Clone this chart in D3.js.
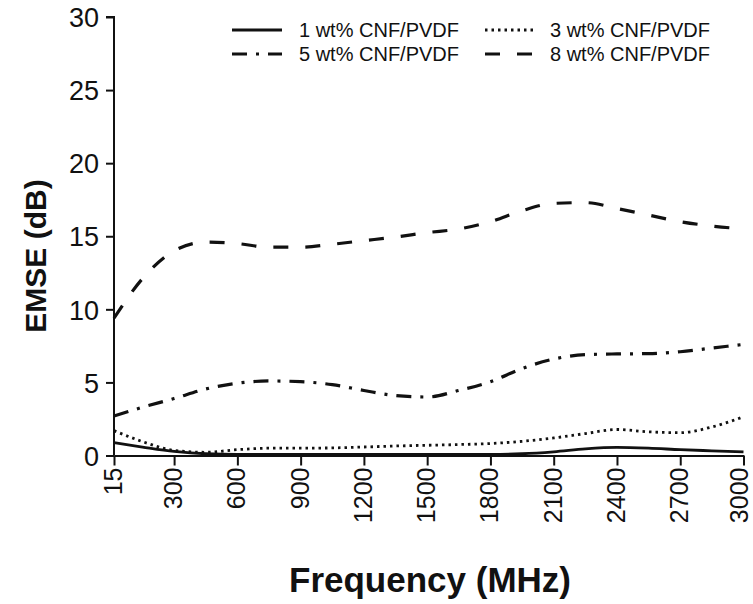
<!DOCTYPE html>
<html>
<head>
<meta charset="utf-8">
<script src="https://cdn.jsdelivr.net/npm/d3@7"></script>
<style>
  body { margin: 0; background: #fff; }
  text { font-family: "Liberation Sans", Arial, sans-serif; fill: #111; }
</style>
</head>
<body>
<div id="chart"></div>
<script>
// frequency points (MHz)
const freqs = [15, 150, 300, 450, 600, 750, 900, 1050, 1200, 1350, 1500, 1650, 1800, 1950, 2100, 2250, 2400, 2550, 2700, 2850, 3000]

// EMSE (dB) for each loading
const cnf1 = [0.88, 0.58, 0.28, 0.12, 0.08, 0.08, 0.08, 0.08, 0.08, 0.08, 0.08, 0.08, 0.08, 0.12, 0.25, 0.45, 0.55, 0.5, 0.4, 0.32, 0.25]
const cnf3 = [1.7, 0.95, 0.35, 0.22, 0.4, 0.5, 0.5, 0.52, 0.58, 0.65, 0.7, 0.75, 0.82, 0.97, 1.2, 1.5, 1.78, 1.62, 1.56, 1.95, 2.65]
const cnf5 = [2.7, 3.3, 3.9, 4.55, 4.95, 5.1, 5.05, 4.85, 4.45, 4.1, 4.0, 4.45, 5.05, 5.95, 6.6, 6.9, 6.95, 6.97, 7.1, 7.35, 7.6]
const cnf8 = [9.4, 12.1, 14.0, 14.6, 14.5, 14.25, 14.25, 14.45, 14.7, 14.95, 15.25, 15.5, 16.0, 16.75, 17.25, 17.3, 16.9, 16.45, 16.0, 15.7, 15.5]

const seriesNames = ['1 wt% CNF/PVDF', '3 wt% CNF/PVDF', '5 wt% CNF/PVDF', '8 wt% CNF/PVDF']
const xTicks = [15, 300, 600, 900, 1200, 1500, 1800, 2100, 2400, 2700, 3000]
const yTicks = [0, 5, 10, 15, 20, 25, 30]

function draw() {
  const width = 753
  const height = 604

  const svg = d3.select('#chart')
    .append('svg')
    .attr('width', width)
    .attr('height', height)

  //scales
  const x = d3.scaleLinear().domain([15, 3000]).range([114, 743.5])
  const y = d3.scaleLinear().domain([0, 30]).range([455.5, 17])

  //axes
  const yAxis = svg.append('g')
    .attr('transform', `translate(${x(15)},0)`)
    .call(d3.axisLeft(y).tickValues(yTicks).tickSize(8).tickPadding(7))
  const xAxis = svg.append('g')
    .attr('transform', `translate(0,${y(0)})`)
    .call(d3.axisBottom(x).tickValues(xTicks).tickFormat(d3.format('d')).tickSize(10).tickSizeOuter(0))

  yAxis.selectAll('path, line').attr('stroke', '#111').attr('stroke-width', 2)
  xAxis.selectAll('path, line').attr('stroke', '#111').attr('stroke-width', 2)
  yAxis.select('.domain').attr('d', `M-8,${y(30)}H0V${y(0)}`)

  yAxis.selectAll('text')
    .attr('font-size', 27)
    .attr('font-family', '"Liberation Sans", Arial, sans-serif')
    .attr('fill', '#111')
    .attr('dy', '0.36em')
  //last label sits at the right edge, pull it in a little
  xAxis.selectAll('text')
    .attr('font-size', 25)
    .attr('font-family', '"Liberation Sans", Arial, sans-serif')
    .attr('fill', '#111')
    .attr('text-anchor', 'end')
    .attr('transform', 'rotate(-90)')
    .attr('x', -12)
    .attr('y', d => d === 3000 ? -5 : -1)
    .attr('dy', '0.34em')

  //axis titles
  svg.append('text')
    .attr('x', 430)
    .attr('y', 592)
    .attr('text-anchor', 'middle')
    .attr('font-weight', 'bold')
    .attr('font-size', 35)
    .text('Frequency (MHz)')

  svg.append('text')
    .attr('transform', 'translate(46,256) rotate(-90)')
    .attr('text-anchor', 'middle')
    .attr('font-weight', 'bold')
    .attr('font-size', 30)
    .text('EMSE (dB)')

  //line styles
  const styles = [
    { dash: null, w: 2.8 },
    { dash: '2.5,4', w: 2.8 },
    { dash: '15,9,3,9', w: 3.2 },
    { dash: '15,17', w: 3.2 }
  ]
  const allSeries = [cnf1, cnf3, cnf5, cnf8]

  const line = d3.line()
    .x((d, i) => x(freqs[i]))
    .y(d => y(d))
    .curve(d3.curveMonotoneX)

  svg.append('g').selectAll('path')
    .data(allSeries)
    .join('path')
    .attr('d', line)
    .attr('fill', 'none')
    .attr('stroke', '#111')
    .attr('stroke-width', (d, i) => styles[i].w)
    .attr('stroke-dasharray', (d, i) => styles[i].dash)

  //legend
  const legendPos = [
    { lx: 232, tx: 299, ly: 30 },
    { lx: 485, tx: 550, ly: 30 },
    { lx: 232, tx: 299, ly: 54 },
    { lx: 485, tx: 550, ly: 54 }
  ]
  const legend = svg.append('g')
  legend.selectAll('line')
    .data(seriesNames)
    .join('line')
    .attr('x1', (d, i) => legendPos[i].lx)
    .attr('x2', (d, i) => legendPos[i].lx + 50)
    .attr('y1', (d, i) => legendPos[i].ly)
    .attr('y2', (d, i) => legendPos[i].ly)
    .attr('stroke', '#111')
    .attr('stroke-width', (d, i) => styles[i].w)
    .attr('stroke-dasharray', (d, i) => styles[i].dash)

  legend.selectAll('text')
    .data(seriesNames)
    .join('text')
    .attr('x', (d, i) => legendPos[i].tx)
    .attr('y', (d, i) => legendPos[i].ly)
    .attr('dy', '0.36em')
    .attr('font-size', 20)
    .text(d => d)
}

draw()
</script>
</body>
</html>
